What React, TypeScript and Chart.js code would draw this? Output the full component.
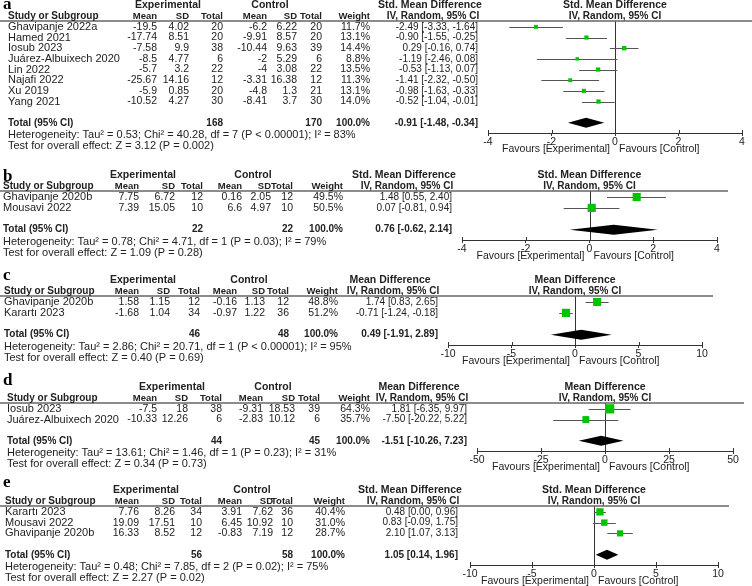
import React, { useEffect, useRef } from 'react';
import { Chart, registerables } from 'chart.js';

Chart.register(...registerables);

const FONT = 'Arial, "Liberation Sans", sans-serif';
const SERIF = '"Times New Roman", "Liberation Serif", serif';

// ---------- Panel a ----------
const aStudies = ['Ghavipanje 2022a', 'Hamed 2021', 'Iosub 2023', 'Juárez-Albuixech 2020', 'Lin 2022', 'Najafi 2022', 'Xu 2019', 'Yang 2021'];
const aExpMean = [-19.5, -17.74, -7.58, -8.5, -5.7, -25.67, -5.9, -10.52];
const aExpSD = [4.02, 8.51, 9.9, 4.77, 3.2, 14.16, 0.85, 4.27];
const aExpN = [20, 20, 38, 6, 22, 12, 20, 30];
const aCtlMean = [-6.2, -9.91, -10.44, -2, -4, -3.31, -4.8, -8.41];
const aCtlSD = [6.22, 8.57, 9.63, 5.29, 3.08, 16.38, 1.3, 3.7];
const aCtlN = [20, 20, 39, 6, 22, 12, 21, 30];
const aWeight = [11.7, 13.1, 14.4, 8.8, 13.5, 11.3, 13.1, 14.0];
const aEst = [-2.49, -0.9, 0.29, -1.19, -0.53, -1.41, -0.98, -0.52];
const aLo = [-3.33, -1.55, -0.16, -2.46, -1.13, -2.32, -1.63, -1.04];
const aHi = [-1.64, -0.25, 0.74, 0.08, 0.07, -0.5, -0.33, -0.01];
const aTotal = [-0.91, -1.48, -0.34];
const aTotalN = [168, 170];
const aHet = 'Heterogeneity: Tau² = 0.53; Chi² = 40.28, df = 7 (P < 0.00001); I² = 83%';
const aTest = 'Test for overall effect: Z = 3.12 (P = 0.002)';
const aTicks = [-4, -2, 0, 2, 4];

// ---------- Panel b ----------
const bStudies = ['Ghavipanje 2020b', 'Mousavi 2022'];
const bExpMean = [7.75, 7.39];
const bExpSD = [6.72, 15.05];
const bExpN = [12, 10];
const bCtlMean = [0.16, 6.6];
const bCtlSD = [2.05, 4.97];
const bCtlN = [12, 10];
const bWeight = [49.5, 50.5];
const bEst = [1.48, 0.07];
const bLo = [0.55, -0.81];
const bHi = [2.4, 0.94];
const bTotal = [0.76, -0.62, 2.14];
const bTotalN = [22, 22];
const bHet = 'Heterogeneity: Tau² = 0.78; Chi² = 4.71, df = 1 (P = 0.03); I² = 79%';
const bTest = 'Test for overall effect: Z = 1.09 (P = 0.28)';
const bTicks = [-4, -2, 0, 2, 4];

// ---------- Panel c ----------
const cStudies = ['Ghavipanje 2020b', 'Karartı 2023'];
const cExpMean = [1.58, -1.68];
const cExpSD = [1.15, 1.04];
const cExpN = [12, 34];
const cCtlMean = [-0.16, -0.97];
const cCtlSD = [1.13, 1.22];
const cCtlN = [12, 36];
const cWeight = [48.8, 51.2];
const cEst = [1.74, -0.71];
const cLo = [0.83, -1.24];
const cHi = [2.65, -0.18];
const cTotal = [0.49, -1.91, 2.89];
const cTotalN = [46, 48];
const cHet = 'Heterogeneity: Tau² = 2.86; Chi² = 20.71, df = 1 (P < 0.00001); I² = 95%';
const cTest = 'Test for overall effect: Z = 0.40 (P = 0.69)';
const cTicks = [-10, -5, 0, 5, 10];

// ---------- Panel d ----------
const dStudies = ['Iosub 2023', 'Juárez-Albuixech 2020'];
const dExpMean = [-7.5, -10.33];
const dExpSD = [18, 12.26];
const dExpN = [38, 6];
const dCtlMean = [-9.31, -2.83];
const dCtlSD = [18.53, 10.12];
const dCtlN = [39, 6];
const dWeight = [64.3, 35.7];
const dEst = [1.81, -7.5];
const dLo = [-6.35, -20.22];
const dHi = [9.97, 5.22];
const dTotal = [-1.51, -10.26, 7.23];
const dTotalN = [44, 45];
const dHet = 'Heterogeneity: Tau² = 13.61; Chi² = 1.46, df = 1 (P = 0.23); I² = 31%';
const dTest = 'Test for overall effect: Z = 0.34 (P = 0.73)';
const dTicks = [-50, -25, 0, 25, 50];

// ---------- Panel e ----------
const eStudies = ['Karartı 2023', 'Mousavi 2022', 'Ghavipanje 2020b'];
const eExpMean = [7.76, 19.09, 16.33];
const eExpSD = [8.26, 17.51, 8.52];
const eExpN = [34, 10, 12];
const eCtlMean = [3.91, 6.45, -0.83];
const eCtlSD = [7.62, 10.92, 7.19];
const eCtlN = [36, 10, 12];
const eWeight = [40.4, 31.0, 28.7];
const eEst = [0.48, 0.83, 2.1];
const eLo = [0.0, -0.09, 1.07];
const eHi = [0.96, 1.75, 3.13];
const eTotal = [1.05, 0.14, 1.96];
const eTotalN = [56, 58];
const eHet = 'Heterogeneity: Tau² = 0.48; Chi² = 7.85, df = 2 (P = 0.02); I² = 75%';
const eTest = 'Test for overall effect: Z = 2.27 (P = 0.02)';
const eTicks = [-10, -5, 0, 5, 10];

const SMD = 'Std. Mean Difference';
const MD = 'Mean Difference';

type Layout = {
  top: number; height: number; headerY: number; axisY: number;
  xMinPx: number; xMaxPx: number; studyLeft: number;
  cols: number[]; // right edges: eMean, eSD, eN, cMean, cSD, cN, weight
  expCenter: number; ctlCenter: number; ciRight: number; letterY: number;
};

type Panel = {
  letter: string; measure: string;
  studies: string[]; em: number[]; esd: number[]; en: number[];
  cm: number[]; csd: number[]; cn: number[]; w: number[];
  est: number[]; lo: number[]; hi: number[];
  total: number[]; totalN: number[]; het: string; test: string; ticks: number[];
  L: Layout;
};

const panels: Panel[] = [
  { letter: 'a', measure: SMD, studies: aStudies, em: aExpMean, esd: aExpSD, en: aExpN, cm: aCtlMean, csd: aCtlSD, cn: aCtlN, w: aWeight, est: aEst, lo: aLo, hi: aHi, total: aTotal, totalN: aTotalN, het: aHet, test: aTest, ticks: aTicks,
    L: { top: 0, height: 160, headerY: 21, axisY: 133, xMinPx: 488, xMaxPx: 742, studyLeft: 8, cols: [157, 189, 223, 267, 297, 322, 370], expCenter: 168, ctlCenter: 270, ciRight: 478, letterY: 9 } },
  { letter: 'b', measure: SMD, studies: bStudies, em: bExpMean, esd: bExpSD, en: bExpN, cm: bCtlMean, csd: bCtlSD, cn: bCtlN, w: bWeight, est: bEst, lo: bLo, hi: bHi, total: bTotal, totalN: bTotalN, het: bHet, test: bTest, ticks: bTicks,
    L: { top: 160, height: 105, headerY: 191, axisY: 240, xMinPx: 462, xMaxPx: 717, studyLeft: 3, cols: [139, 175, 203, 242, 271, 293, 343], expCenter: 143, ctlCenter: 253, ciRight: 452, letterY: 181 } },
  { letter: 'c', measure: MD, studies: cStudies, em: cExpMean, esd: cExpSD, en: cExpN, cm: cCtlMean, csd: cCtlSD, cn: cCtlN, w: cWeight, est: cEst, lo: cLo, hi: cHi, total: cTotal, totalN: cTotalN, het: cHet, test: cTest, ticks: cTicks,
    L: { top: 265, height: 105, headerY: 296, axisY: 345, xMinPx: 448, xMaxPx: 702, studyLeft: 4, cols: [139, 170, 200, 237, 265, 289, 338], expCenter: 143, ctlCenter: 249, ciRight: 438, letterY: 280 } },
  { letter: 'd', measure: MD, studies: dStudies, em: dExpMean, esd: dExpSD, en: dExpN, cm: dCtlMean, csd: dCtlSD, cn: dCtlN, w: dWeight, est: dEst, lo: dLo, hi: dHi, total: dTotal, totalN: dTotalN, het: dHet, test: dTest, ticks: dTicks,
    L: { top: 370, height: 105, headerY: 403, axisY: 451, xMinPx: 477, xMaxPx: 733, studyLeft: 7, cols: [157, 188, 222, 263, 295, 320, 370], expCenter: 172, ctlCenter: 273, ciRight: 467, letterY: 385 } },
  { letter: 'e', measure: SMD, studies: eStudies, em: eExpMean, esd: eExpSD, en: eExpN, cm: eCtlMean, csd: eCtlSD, cn: eCtlN, w: eWeight, est: eEst, lo: eLo, hi: eHi, total: eTotal, totalN: eTotalN, het: eHet, test: eTest, ticks: eTicks,
    L: { top: 475, height: 111, headerY: 506, axisY: 565, xMinPx: 470, xMaxPx: 718, studyLeft: 5, cols: [139, 175, 202, 242, 273, 293, 345], expCenter: 146, ctlCenter: 252, ciRight: 458, letterY: 487 } },
];

const W = 752;
const XH = 16;
const TEXT = '#222';
const GREEN = '#00c400';

const fmtCI = (e: number, l: number, h: number) => `${e.toFixed(2)} [${l.toFixed(2)}, ${h.toFixed(2)}]`;

function makePlugin(p: Panel) {
  return {
    id: 'forest-' + p.letter,
    beforeDatasetsDraw(chart: any) {
      const ctx = chart.ctx;
      const xs = chart.scales.x;
      const ys = chart.scales.y;
      const area = chart.chartArea;
      ctx.save();
      const x0 = xs.getPixelForValue(0);
      ctx.strokeStyle = '#333';
      ctx.lineWidth = 1;
      ctx.beginPath();
      ctx.moveTo(Math.round(x0) + 0.5, area.top);
      ctx.lineTo(Math.round(x0) + 0.5, area.bottom);
      ctx.stroke();
      ctx.strokeStyle = '#555';
      p.est.forEach((_, i) => {
        const y = Math.round(ys.getPixelForValue(i)) + 0.5;
        ctx.beginPath();
        ctx.moveTo(xs.getPixelForValue(p.lo[i]), y);
        ctx.lineTo(xs.getPixelForValue(p.hi[i]), y);
        ctx.stroke();
      });
      ctx.restore();
    },
    afterDraw(chart: any) {
      const ctx = chart.ctx;
      const xs = chart.scales.x;
      const ys = chart.scales.y;
      const area = chart.chartArea;
      const L = p.L;
      const n = p.studies.length;
      const off = -L.top;
      ctx.save();
      const ty = ys.getPixelForValue(n + 1);
      ctx.fillStyle = '#000';
      ctx.beginPath();
      ctx.moveTo(xs.getPixelForValue(p.total[1]), ty);
      ctx.lineTo(xs.getPixelForValue(p.total[0]), ty - 5);
      ctx.lineTo(xs.getPixelForValue(p.total[2]), ty);
      ctx.lineTo(xs.getPixelForValue(p.total[0]), ty + 5);
      ctx.closePath();
      ctx.fill();
      ctx.strokeStyle = '#333';
      ctx.lineWidth = 1;
      p.ticks.forEach((t) => {
        const x = Math.round(xs.getPixelForValue(t)) + 0.5;
        ctx.beginPath();
        ctx.moveTo(x, area.bottom - 3);
        ctx.lineTo(x, area.bottom);
        ctx.stroke();
      });
      ctx.strokeStyle = '#666';
      ctx.lineWidth = 1.5;
      ctx.beginPath();
      ctx.moveTo(0, area.top);
      ctx.lineTo(Math.min(W, L.xMaxPx + 11), area.top);
      ctx.stroke();

      ctx.fillStyle = TEXT;
      ctx.textBaseline = 'middle';
      const h1 = area.top - 16;
      const h2 = area.top - 5;
      const boldBig = `bold 10.5px ${FONT}`;
      const bold = `bold 10px ${FONT}`;
      const boldHead = `bold 9.5px ${FONT}`;
      const name = `11px ${FONT}`;
      const num = `10.5px ${FONT}`;
      const ci = `10px ${FONT}`;
      ctx.font = `bold 17px ${SERIF}`;
      ctx.textAlign = 'left';
      ctx.textBaseline = 'alphabetic';
      ctx.fillStyle = '#000';
      ctx.fillText(p.letter, 3, L.letterY + off);
      ctx.fillStyle = TEXT;
      ctx.textBaseline = 'middle';
      ctx.font = boldBig;
      ctx.textAlign = 'center';
      ctx.fillText('Experimental', L.expCenter, h1);
      ctx.fillText('Control', L.ctlCenter, h1);
      ctx.fillText(p.measure, L.ciRight - 48, h1);
      const zx = xs.getPixelForValue(0);
      ctx.fillText(p.measure, zx, h1);
      ctx.font = bold;
      ctx.fillText('IV, Random, 95% CI', L.ciRight - 45, h2);
      ctx.fillText('IV, Random, 95% CI', zx, h2);
      ctx.textAlign = 'left';
      ctx.fillText('Study or Subgroup', L.studyLeft, h2);
      ctx.textAlign = 'right';
      ctx.font = boldHead;
      const heads = ['Mean', 'SD', 'Total', 'Mean', 'SD', 'Total', 'Weight'];
      heads.forEach((h, k) => ctx.fillText(h, L.cols[k], h2));
      p.studies.forEach((s, i) => {
        const y = ys.getPixelForValue(i);
        ctx.font = name;
        ctx.textAlign = 'left';
        ctx.fillText(s, L.studyLeft, y);
        ctx.textAlign = 'right';
        ctx.font = num;
        const vals = [String(p.em[i]), String(p.esd[i]), String(p.en[i]), String(p.cm[i]), String(p.csd[i]), String(p.cn[i]), p.w[i].toFixed(1) + '%'];
        vals.forEach((v, k) => ctx.fillText(v, L.cols[k], y));
        ctx.font = ci;
        ctx.fillText(fmtCI(p.est[i], p.lo[i], p.hi[i]), L.ciRight, y);
      });
      ctx.font = bold;
      ctx.textAlign = 'left';
      ctx.fillText('Total (95% CI)', L.studyLeft, ty);
      ctx.textAlign = 'right';
      ctx.fillText(String(p.totalN[0]), L.cols[2], ty);
      ctx.fillText(String(p.totalN[1]), L.cols[5], ty);
      ctx.fillText('100.0%', L.cols[6], ty);
      ctx.fillText(fmtCI(p.total[0], p.total[1], p.total[2]), L.ciRight, ty);
      ctx.font = name;
      ctx.textAlign = 'left';
      ctx.fillText(p.het, L.studyLeft, ty + 12);
      ctx.fillText(p.test, L.studyLeft, ty + 23);
      ctx.font = `10.5px ${FONT}`;
      ctx.textAlign = 'right';
      ctx.fillText('Favours [Experimental]', zx - 5, area.bottom + 16);
      ctx.textAlign = 'left';
      ctx.fillText('Favours [Control]', zx + 4, area.bottom + 16);
      ctx.restore();
    },
  };
}

function ForestPanel({ p }: { p: Panel }) {
  const ref = useRef<HTMLCanvasElement | null>(null);
  useEffect(() => {
    const L = p.L;
    const n = p.studies.length;
    const chart = new Chart(ref.current as HTMLCanvasElement, {
      type: 'scatter',
      data: {
        datasets: [
          {
            data: p.est.map((v, i) => ({ x: v, y: i })),
            pointStyle: 'rect',
            pointRadius: p.w.map((wt) => (1.15 * Math.sqrt(wt)) / 1.414),
            backgroundColor: GREEN,
            borderColor: GREEN,
            borderWidth: 0,
          },
        ],
      },
      options: {
        animation: false,
        responsive: false,
        events: [],
        layout: {
          padding: {
            left: L.xMinPx,
            right: W - L.xMaxPx,
            top: L.headerY - L.top,
            bottom: L.top + L.height - L.axisY - XH,
          },
        },
        scales: {
          x: {
            type: 'linear',
            min: p.ticks[0],
            max: p.ticks[p.ticks.length - 1],
            afterBuildTicks: (scale: any) => {
              scale.ticks = p.ticks.map((v) => ({ value: v }));
            },
            afterFit: (scale: any) => {
              scale.height = XH;
            },
            ticks: { color: TEXT, font: { family: FONT, size: 10.5 }, padding: 0, maxRotation: 0, autoSkip: false },
            grid: { drawOnChartArea: false, drawTicks: true, tickLength: 3, color: '#333' },
            border: { color: '#333', width: 1 },
          },
          y: {
            type: 'linear',
            display: false,
            reverse: true,
            min: -0.55,
            max: n + 1.95,
          },
        },
        plugins: { legend: { display: false }, tooltip: { enabled: false } },
      } as any,
      plugins: [makePlugin(p)],
    });
    return () => chart.destroy();
  }, [p]);
  return (
    <canvas
      ref={ref}
      width={W}
      height={p.L.height}
      style={{ position: 'absolute', left: 0, top: p.L.top, width: W, height: p.L.height, display: 'block' }}
    />
  );
}

export default function App() {
  return (
    <div style={{ position: 'absolute', left: 0, top: 0, width: W, height: 586, background: '#fff', overflow: 'hidden' }}>
      {panels.map((p) => (
        <ForestPanel key={p.letter} p={p} />
      ))}
    </div>
  );
}
